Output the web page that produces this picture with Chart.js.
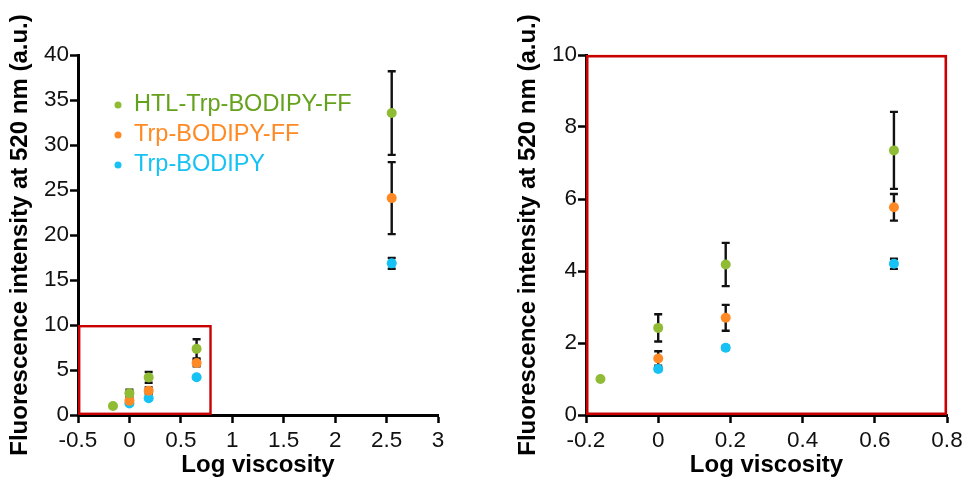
<!DOCTYPE html>
<html>
<head>
<meta charset="utf-8">
<script src="https://cdn.jsdelivr.net/npm/chart.js@4.4.1/dist/chart.umd.min.js"></script>
<style>
  html, body { margin: 0; padding: 0; background: #ffffff; }
  #wrap { position: relative; width: 963px; height: 477px; overflow: hidden; }
  #c1 { position: absolute; left: 0; top: 0; }
  #c2 { position: absolute; left: 480px; top: 0; }
</style>
</head>
<body>
<div id="wrap">
  <canvas id="c1" width="480" height="477"></canvas>
  <canvas id="c2" width="483" height="477"></canvas>
</div>
<script>
// ---- data ----
const seriesNames = ['HTL-Trp-BODIPY-FF', 'Trp-BODIPY-FF', 'Trp-BODIPY'];

const htlX   = [-0.16, 0, 0.187, 0.653, 2.55];
const htlY   = [1.0, 2.42, 4.18, 7.35, 33.55];
const htlErr = [0, 0.38, 0.6, 1.07, 4.65];

const ffX   = [0, 0.187, 0.653, 2.55];
const ffY   = [1.57, 2.7, 5.77, 24.1];
const ffErr = [0.2, 0.36, 0.37, 4.0];

const trpX   = [0, 0.187, 0.653, 2.55];
const trpY   = [1.28, 1.87, 4.2, 16.85];
const trpErr = [0.05, 0.05, 0.14, 0.6];

const leftXTicks  = [-0.5, 0, 0.5, 1, 1.5, 2, 2.5, 3];
const leftYTicks  = [0, 5, 10, 15, 20, 25, 30, 35, 40];
const rightXTicks = [-0.2, 0, 0.2, 0.4, 0.6, 0.8];
const rightYTicks = [0, 2, 4, 6, 8, 10];

const zoomBoxX = [-0.5, 0.8];
const zoomBoxY = [0, 10];

// ---- styling ----
const markerColors = ['#8fbc34', '#ff8a25', '#16c2f3'];
const textColors   = ['#64a11c', '#ff8a25', '#16c2f3'];
const FONT = "'Liberation Sans', Arial, sans-serif";
const RED = '#c80000';

function toPts(xs, ys) { return xs.map((x, i) => ({ x: x, y: ys[i] })); }

function makeDatasets() {
  const xs = [htlX, ffX, trpX], ys = [htlY, ffY, trpY], es = [htlErr, ffErr, trpErr];
  return seriesNames.map((n, k) => ({
    label: n,
    data: toPts(xs[k], ys[k]),
    errors: es[k],
    backgroundColor: markerColors[k],
    borderColor: markerColors[k],
    pointRadius: 5,
    pointBorderWidth: 0,
    showLine: false,
    clip: false
  }));
}

const errorBarPlugin = {
  id: 'errorBars',
  beforeDatasetsDraw(chart) {
    const ctx = chart.ctx, xs = chart.scales.x, ys = chart.scales.y;
    ctx.save();
    ctx.strokeStyle = '#111111';
    ctx.lineWidth = 2.4;
    chart.data.datasets.forEach(ds => {
      ds.data.forEach((p, i) => {
        const e = ds.errors[i];
        if (!e) return;
        const px = xs.getPixelForValue(p.x);
        const top = ys.getPixelForValue(p.y + e);
        const bot = ys.getPixelForValue(p.y - e);
        ctx.beginPath();
        ctx.moveTo(px, top); ctx.lineTo(px, bot);
        ctx.moveTo(px - 4, top); ctx.lineTo(px + 4, top);
        ctx.moveTo(px - 4, bot); ctx.lineTo(px + 4, bot);
        ctx.stroke();
      });
    });
    ctx.restore();
  }
};

const zoomBoxPlugin = {
  id: 'zoomBox',
  afterDatasetsDraw(chart, args, opts) {
    const ctx = chart.ctx, xs = chart.scales.x, ys = chart.scales.y;
    const l = xs.getPixelForValue(opts.x[0]) + 1.2;
    const r = xs.getPixelForValue(opts.x[1]) - 1.2;
    const t = ys.getPixelForValue(opts.y[1]) + 1.2;
    const b = ys.getPixelForValue(opts.y[0]) - 1.2;
    ctx.save();
    ctx.strokeStyle = RED;
    ctx.lineWidth = opts.width;
    ctx.strokeRect(l, t, r - l, b - t);
    ctx.restore();
  }
};

const legendPlugin = {
  id: 'inLegend',
  afterDraw(chart, args, opts) {
    if (!opts.show) return;
    const ctx = chart.ctx;
    ctx.save();
    ctx.font = '23.5px ' + FONT;
    ctx.textBaseline = 'middle';
    ctx.textAlign = 'left';
    seriesNames.forEach((n, k) => {
      const y = 105 + k * 30;
      ctx.fillStyle = markerColors[k];
      ctx.beginPath();
      ctx.arc(118, y, 3.5, 0, Math.PI * 2);
      ctx.fill();
      ctx.fillStyle = textColors[k];
      ctx.fillText(n, 134, y);
    });
    ctx.restore();
  }
};

function makeOptions(cfg) {
  return {
    responsive: false,
    animation: false,
    events: [],
    layout: { padding: cfg.padding },
    plugins: {
      legend: { display: false },
      tooltip: { enabled: false },
      zoomBox: cfg.box,
      inLegend: { show: cfg.legend }
    },
    scales: {
      x: {
        type: 'linear',
        min: cfg.xTicks[0],
        max: cfg.xTicks[cfg.xTicks.length - 1],
        afterBuildTicks: s => { s.ticks = cfg.xTicks.map(v => ({ value: v })); },
        afterFit: s => { s.height = 62; s.paddingLeft = 0; s.paddingRight = 0; },
        border: { display: true, color: '#000000', width: 3 },
        grid: { display: true, drawOnChartArea: false, drawTicks: true, tickLength: 8, tickWidth: 2.5, tickColor: '#000000' },
        ticks: { color: '#111111', font: { family: FONT, size: 22.5 }, padding: 4, maxRotation: 0, autoSkip: false,
                 callback: v => String(v) },
        title: { display: true, text: 'Log viscosity', color: '#000000',
                 font: { family: FONT, size: 24, weight: 'bold', lineHeight: 1 }, padding: { top: 0, bottom: 0 } }
      },
      y: {
        type: 'linear',
        min: cfg.yTicks[0],
        max: cfg.yTicks[cfg.yTicks.length - 1],
        afterBuildTicks: s => { s.ticks = cfg.yTicks.map(v => ({ value: v })); },
        afterFit: s => { s.width = 78; s.paddingTop = 0; s.paddingBottom = 0; },
        border: { display: true, color: '#000000', width: 3 },
        grid: { display: true, drawOnChartArea: false, drawTicks: true, tickLength: 8, tickWidth: 2.5, tickColor: '#000000' },
        ticks: { color: '#111111', font: { family: FONT, size: 22.5 }, padding: 1, autoSkip: false,
                 callback: v => String(v) },
        title: { display: true, text: 'Fluorescence intensity at 520 nm (a.u.)', color: '#000000',
                 font: { family: FONT, size: 24, weight: 'bold', lineHeight: 1 }, padding: { top: 8.5, bottom: 0 } }
      }
    }
  };
}

new Chart(document.getElementById('c1'), {
  type: 'scatter',
  data: { datasets: makeDatasets() },
  options: makeOptions({
    padding: { left: 0, top: 55, right: 42, bottom: 0 },
    xTicks: leftXTicks, yTicks: leftYTicks,
    box: { x: zoomBoxX, y: zoomBoxY, width: 2.4 },
    legend: true
  }),
  plugins: [errorBarPlugin, zoomBoxPlugin, legendPlugin]
});

new Chart(document.getElementById('c2'), {
  type: 'scatter',
  data: { datasets: makeDatasets() },
  options: makeOptions({
    padding: { left: 28, top: 55, right: 16, bottom: 0 },
    xTicks: rightXTicks, yTicks: rightYTicks,
    box: { x: [rightXTicks[0], rightXTicks[rightXTicks.length - 1]], y: [rightYTicks[0], rightYTicks[rightYTicks.length - 1]], width: 2.6 },
    legend: false
  }),
  plugins: [errorBarPlugin, zoomBoxPlugin, legendPlugin]
});
</script>
</body>
</html>
